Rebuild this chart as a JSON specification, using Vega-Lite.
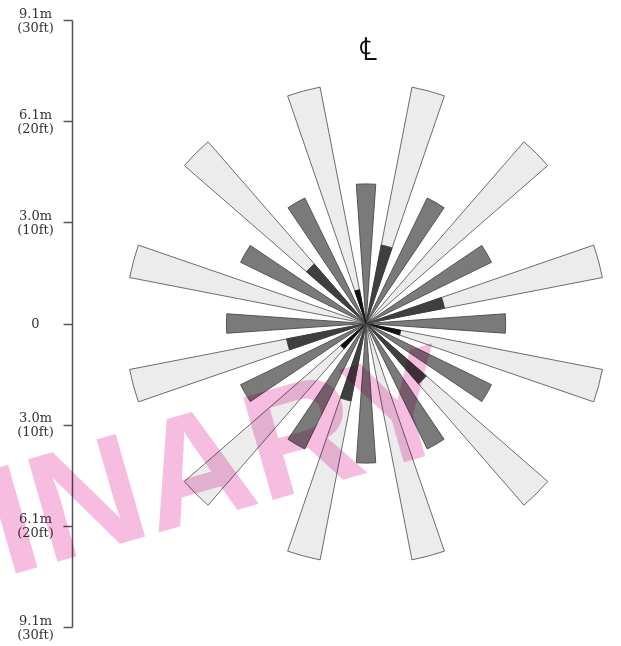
{
  "$schema": "https://vega.github.io/schema/vega-lite/v6.json",
  "width": 549,
  "height": 607,
  "autosize": {"type": "none"},
  "padding": {"left": 72, "top": 20, "right": 0, "bottom": 19},
  "background": "white",
  "config": {
    "view": {"stroke": null},
    "axisX": {"disable": true}
  },
  "datasets": {
    "wedges": [
      {"kind": "light", "dir": 15, "a0": 11, "a1": 19, "r0": 0, "r1": 23.8},
      {"kind": "light", "dir": 45, "a0": 41, "a1": 49, "r0": 0, "r1": 23.8},
      {"kind": "light", "dir": 75, "a0": 71, "a1": 79, "r0": 0, "r1": 23.8},
      {"kind": "light", "dir": 105, "a0": 101, "a1": 109, "r0": 0, "r1": 23.8},
      {"kind": "light", "dir": 135, "a0": 131, "a1": 139, "r0": 0, "r1": 23.8},
      {"kind": "light", "dir": 165, "a0": 161, "a1": 169, "r0": 0, "r1": 23.8},
      {"kind": "light", "dir": 195, "a0": 191, "a1": 199, "r0": 0, "r1": 23.8},
      {"kind": "light", "dir": 225, "a0": 221, "a1": 229, "r0": 0, "r1": 23.8},
      {"kind": "light", "dir": 255, "a0": 251, "a1": 259, "r0": 0, "r1": 23.8},
      {"kind": "light", "dir": 285, "a0": 281, "a1": 289, "r0": 0, "r1": 23.8},
      {"kind": "light", "dir": 315, "a0": 311, "a1": 319, "r0": 0, "r1": 23.8},
      {"kind": "light", "dir": 345, "a0": 341, "a1": 349, "r0": 0, "r1": 23.8},
      {"kind": "medium", "dir": 0, "a0": -4, "a1": 4, "r0": 0, "r1": 13.8},
      {"kind": "medium", "dir": 30, "a0": 26, "a1": 34, "r0": 0, "r1": 13.8},
      {"kind": "medium", "dir": 60, "a0": 56, "a1": 64, "r0": 0, "r1": 13.8},
      {"kind": "medium", "dir": 90, "a0": 86, "a1": 94, "r0": 0, "r1": 13.8},
      {"kind": "medium", "dir": 120, "a0": 116, "a1": 124, "r0": 0, "r1": 13.8},
      {"kind": "medium", "dir": 150, "a0": 146, "a1": 154, "r0": 0, "r1": 13.8},
      {"kind": "medium", "dir": 180, "a0": 176, "a1": 184, "r0": 0, "r1": 13.8},
      {"kind": "medium", "dir": 210, "a0": 206, "a1": 214, "r0": 0, "r1": 13.8},
      {"kind": "medium", "dir": 240, "a0": 236, "a1": 244, "r0": 0, "r1": 13.8},
      {"kind": "medium", "dir": 270, "a0": 266, "a1": 274, "r0": 0, "r1": 13.8},
      {"kind": "medium", "dir": 300, "a0": 296, "a1": 304, "r0": 0, "r1": 13.8},
      {"kind": "medium", "dir": 330, "a0": 326, "a1": 334, "r0": 0, "r1": 13.8},
      {"kind": "dark", "dir": 15, "a0": 11, "a1": 19, "r0": 0, "r1": 7.9},
      {"kind": "dark", "dir": 75, "a0": 71, "a1": 79, "r0": 0, "r1": 7.9},
      {"kind": "dark", "dir": 135, "a0": 131, "a1": 139, "r0": 0, "r1": 7.9},
      {"kind": "dark", "dir": 195, "a0": 191, "a1": 199, "r0": 0, "r1": 7.8},
      {"kind": "dark", "dir": 255, "a0": 251, "a1": 259, "r0": 0, "r1": 8.0},
      {"kind": "dark", "dir": 315, "a0": 311, "a1": 319, "r0": 0, "r1": 7.8},
      {"kind": "black", "dir": 105, "a0": 101, "a1": 109, "r0": 0, "r1": 3.5},
      {"kind": "black", "dir": 225, "a0": 221, "a1": 229, "r0": 0, "r1": 3.3},
      {"kind": "black", "dir": 345, "a0": 341, "a1": 349, "r0": 0, "r1": 3.4}
    ],
    "watermark": [{"label": "PRELIMINARY", "x": 9.7, "y": -12.0}],
    "centreline": [{"label": "℄", "x": 0.2, "y": 27}]
  },
  "layer": [
    {
      "mark": {"type": "rule", "strokeDash": [10, 9], "color": "#555555", "strokeWidth": 1.2},
      "encoding": {
        "x": {"datum": 0, "type": "quantitative", "scale": {"domain": [-29.06, 25.2], "nice": false, "zero": false}},
        "y": {
          "datum": -31.3, "type": "quantitative",
          "scale": {"domain": [-30, 30], "nice": false},
          "axis": {
            "values": [-30, -20, -10, 0, 10, 20, 30],
            "labelExpr": "datum.value == 0 ? '0' : [abs(datum.value) == 10 ? '3.0m' : abs(datum.value) == 20 ? '6.1m' : '9.1m', '(' + abs(datum.value) + 'ft)']",
            "title": null,
            "grid": false,
            "domainColor": "#555555",
            "domainWidth": 1.5,
            "tickColor": "#555555",
            "tickWidth": 1.5,
            "tickSize": 9,
            "labelFont": "DejaVu Serif",
            "labelFontSize": 13,
            "labelColor": "#333333",
            "labelAlign": "center",
            "labelBaseline": {"condition": {"test": "datum.value == 0", "value": "middle"}, "value": "line-bottom"},
            "labelPadding": 28,
            "labelLineHeight": 14,
            "labelFlush": false,
            "labelOverlap": false
          }
        },
        "y2": {"datum": 30.2}
      }
    },
    {
      "mark": {"type": "rule", "strokeDash": [10, 9], "color": "#555555", "strokeWidth": 1.2},
      "encoding": {
        "x": {"datum": -29.06, "type": "quantitative"},
        "x2": {"datum": 25.2},
        "y": {"datum": 0, "type": "quantitative"}
      }
    },
    {
      "data": {"name": "wedges"},
      "mark": {"type": "arc", "strokeWidth": 0.9},
      "encoding": {
        "x": {"datum": 0, "type": "quantitative"},
        "y": {"datum": 0, "type": "quantitative"},
        "theta": {"field": "a0", "type": "quantitative", "scale": {"domain": [0, 360], "range": [0, 6.283185307]}},
        "theta2": {"field": "a1"},
        "radius": {"field": "r1", "type": "quantitative", "scale": {"type": "linear", "domain": [0, 30], "range": [0, 303.5]}},
        "radius2": {"field": "r0"},
        "color": {"field": "kind", "type": "nominal", "legend": null,
          "scale": {"domain": ["light", "medium", "dark", "black"], "range": ["#ececec", "#7a7a7a", "#3f3f3f", "#111111"]}},
        "stroke": {"field": "kind", "type": "nominal", "legend": null,
          "scale": {"domain": ["light", "medium", "dark", "black"], "range": ["#5c5c5c", "#4a4a4a", "#3a3a3a", "#111111"]}},
        "order": {"field": "dir", "type": "quantitative"}
      }
    },
    {
      "data": {"name": "centreline"},
      "mark": {"type": "text", "font": "DejaVu Serif", "fontSize": 32, "color": "#111111", "align": "center", "baseline": "middle"},
      "encoding": {
        "x": {"field": "x", "type": "quantitative"},
        "y": {"field": "y", "type": "quantitative"},
        "text": {"field": "label"}
      }
    },
    {
      "data": {"name": "watermark"},
      "mark": {"type": "text", "font": "Liberation Sans", "fontWeight": "bold", "fontSize": 155, "angle": -16, "align": "right", "baseline": "alphabetic", "color": "#f6bde0", "blend": "multiply"},
      "encoding": {
        "x": {"field": "x", "type": "quantitative"},
        "y": {"field": "y", "type": "quantitative"},
        "text": {"field": "label"}
      }
    }
  ]
}
